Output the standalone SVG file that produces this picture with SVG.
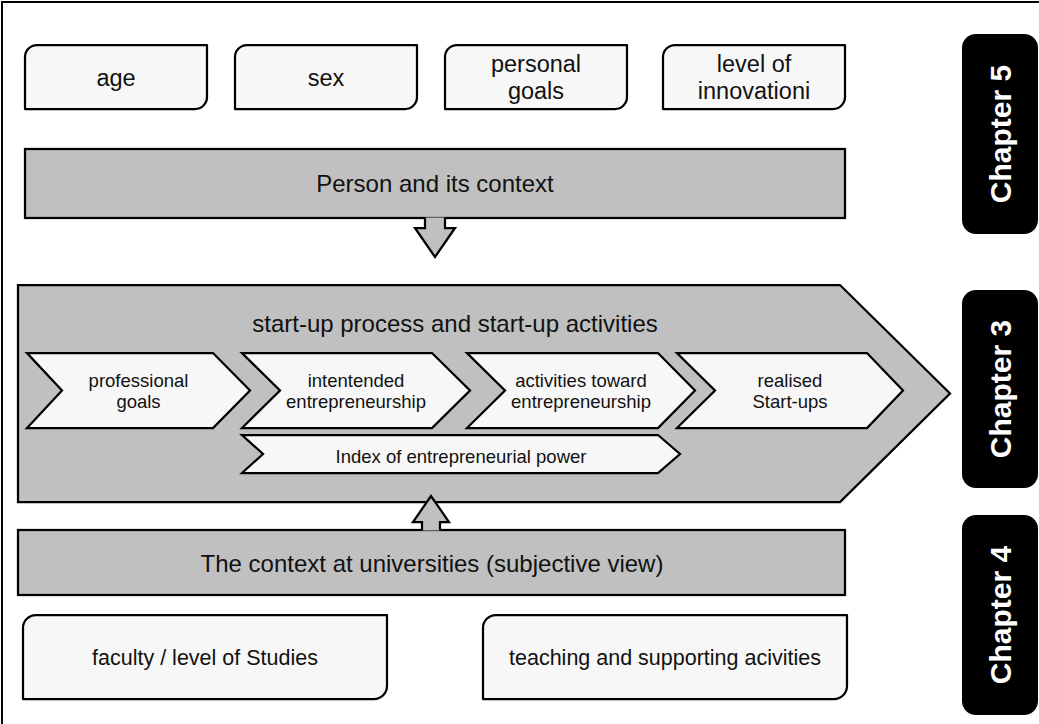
<svg xmlns="http://www.w3.org/2000/svg" width="1039" height="724" viewBox="0 0 1039 724">
<defs>
<style>
.box{fill:#f7f7f7;stroke:#000;stroke-width:2.25;stroke-linejoin:round}
.gray{fill:#c0c0c0;stroke:#000;stroke-width:2.25;stroke-linejoin:miter}
.chap{fill:#000}
text{font-family:"Liberation Sans",Arial,sans-serif;fill:#111;text-anchor:middle}
.t24{font-size:24px}
.t23{font-size:23.5px}
.t21{font-size:21.5px}
.t18{font-size:18.5px}
.ct{font-size:30px;font-weight:bold;fill:#fff}
</style>
</defs>
<rect width="1039" height="724" fill="#fff"/>
<path d="M2,724 V2 H1039" fill="none" stroke="#000" stroke-width="2"/>

<g id="age">
<path class="box" d="M37,45 H207 V97 A12,12 0 0 1 195,109 H25 V57 A12,12 0 0 1 37,45 Z"/>
<text class="t23" x="116" y="86">age</text>
</g>
<g id="sex">
<path class="box" d="M247,45 H417 V97 A12,12 0 0 1 405,109 H235 V57 A12,12 0 0 1 247,45 Z"/>
<text class="t23" x="326" y="86">sex</text>
</g>
<g id="personal-goals">
<path class="box" d="M457,45 H627 V97 A12,12 0 0 1 615,109 H445 V57 A12,12 0 0 1 457,45 Z"/>
<text class="t23" x="536" y="72">personal</text>
<text class="t23" x="536" y="99">goals</text>
</g>
<g id="level-of-innovation">
<path class="box" d="M675,45 H845 V97 A12,12 0 0 1 833,109 H663 V57 A12,12 0 0 1 675,45 Z"/>
<text class="t23" x="754" y="72">level of</text>
<text class="t23" x="754" y="99">innovationi</text>
</g>

<g id="person-context">
<rect class="gray" x="25" y="149" width="820" height="69"/>
<text class="t24" x="435" y="192">Person and its context</text>
</g>

<g id="startup-process">
<path class="gray" d="M18,285 H840 L950,393.5 L840,502 H18 Z"/>
<text class="t24" x="455" y="332">start-up process and start-up activities</text>
</g>
<g id="professional-goals">
<path class="box" style="stroke-linejoin:miter" d="M27,353 H213 L250,390.5 L213,428 H27 L62,390.5 Z"/>
<text class="t18" x="138.5" y="387">professional</text>
<text class="t18" x="138.5" y="408">goals</text>
</g>
<g id="intended-entrepreneurship">
<path class="box" style="stroke-linejoin:miter" d="M242,353 H432 L470,390.5 L432,428 H242 L280,390.5 Z"/>
<text class="t18" x="356" y="387">intentended</text>
<text class="t18" x="356" y="408">entrepreneurship</text>
</g>
<g id="activities-toward">
<path class="box" style="stroke-linejoin:miter" d="M467,353 H658 L695,390.5 L658,428 H467 L505,390.5 Z"/>
<text class="t18" x="581" y="387">activities toward</text>
<text class="t18" x="581" y="408">entrepreneurship</text>
</g>
<g id="realised-startups">
<path class="box" style="stroke-linejoin:miter" d="M677,353 H867 L903,390.5 L867,428 H677 L715,390.5 Z"/>
<text class="t18" x="790" y="387">realised</text>
<text class="t18" x="790" y="408">Start-ups</text>
</g>
<g id="index-power">
<path class="box" style="stroke-linejoin:miter" d="M242,435 H658 L680,454 L658,473 H242 L263,454 Z"/>
<text class="t18" x="461" y="463">Index of entrepreneurial power</text>
</g>

<g id="university-context">
<rect class="gray" x="18" y="530" width="827" height="65"/>
<text class="t24" x="432" y="572">The context at universities (subjective view)</text>
</g>

<g id="connectors">
<path class="gray" d="M425,217.5 V228 H415 L435,257 L455,228 H445 V217.5"/>
<path class="gray" d="M422,530.5 V522 H413 L431,496 L449,522 H440 V530.5"/>
</g>

<g id="faculty">
<path class="box" d="M36,615 H387 V686 A13,13 0 0 1 374,699 H23 V628 A13,13 0 0 1 36,615 Z"/>
<text class="t21" x="205" y="665">faculty / level of Studies</text>
</g>
<g id="teaching">
<path class="box" d="M496,615 H847 V686 A13,13 0 0 1 834,699 H483 V628 A13,13 0 0 1 496,615 Z"/>
<text class="t21" x="665" y="665">teaching and supporting acivities</text>
</g>

<g id="chapter5">
<rect class="chap" x="962" y="34" width="76" height="200" rx="14"/>
<text class="ct" transform="translate(1011,134) rotate(-90)">Chapter 5</text>
</g>
<g id="chapter3">
<rect class="chap" x="962" y="290" width="76" height="198" rx="14"/>
<text class="ct" transform="translate(1011,389) rotate(-90)">Chapter 3</text>
</g>
<g id="chapter4">
<rect class="chap" x="962" y="515" width="76" height="200" rx="14"/>
<text class="ct" transform="translate(1011,615) rotate(-90)">Chapter 4</text>
</g>
</svg>
